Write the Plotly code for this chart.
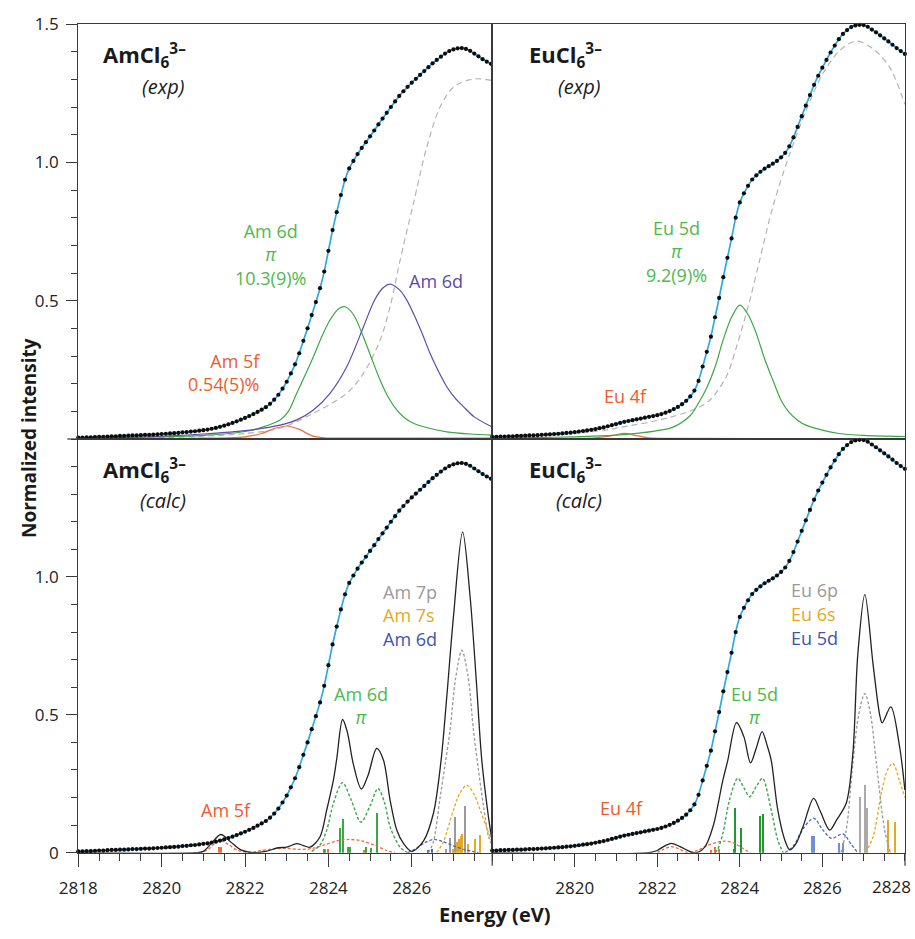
import plotly.graph_objects as go

# ---------------- DATA ----------------
# experimental spectra (sampled every 0.1 eV)
am_exp_E = [round(2818.0 + 0.1 * i, 1) for i in range(100)]
am_exp = [.005, .005, .006, .006, .007, .008, .008, .009, .010, .010,
          .011, .011, .012, .013, .013, .014, .015, .015, .016, .017,
          .018, .019, .020, .021, .022, .024, .025, .027, .028, .030,
          .032, .034, .037, .040, .044, .048, .053, .058, .064, .070,
          .076, .083, .090, .098, .106, .115, .127, .142, .160, .182,
          .207, .237, .270, .310, .355, .400, .448, .495, .545, .605,
          .680, .755, .820, .882, .937, .978, 1.005, 1.030, 1.052, 1.073,
          1.094, 1.115, 1.137, 1.158, 1.179, 1.200, 1.220, 1.240, 1.257, 1.273,
          1.288, 1.302, 1.316, 1.330, 1.344, 1.358, 1.370, 1.382, 1.393, 1.402,
          1.408, 1.412, 1.413, 1.410, 1.403, 1.393, 1.383, 1.373, 1.364, 1.356]

eu_exp_E = [round(2818.0 + 0.1 * i, 1) for i in range(101)]
eu_exp = [.008, .008, .009, .009, .010, .010, .011, .011, .012, .013,
          .013, .014, .015, .016, .017, .018, .019, .020, .022, .023,
          .025, .027, .029, .031, .033, .036, .039, .042, .046, .050,
          .054, .058, .062, .065, .068, .071, .074, .077, .080, .083,
          .086, .090, .095, .101, .108, .116, .126, .138, .154, .175,
          .210, .262, .315, .370, .440, .510, .585, .655, .725, .800,
          .855, .888, .915, .938, .953, .966, .977, .986, .995, 1.005,
          1.018, 1.034, 1.058, 1.090, 1.128, 1.167, 1.205, 1.243, 1.280, 1.313,
          1.342, 1.370, 1.397, 1.422, 1.445, 1.464, 1.478, 1.489, 1.495, 1.497,
          1.496, 1.490, 1.480, 1.470, 1.459, 1.448, 1.437, 1.425, 1.413, 1.402,
          1.392]

# fitted components, AmCl6 (exp)
am_pi_E = [2818.0, 2819.0, 2820.0, 2821.0, 2821.5, 2822.0, 2822.4, 2822.84, 2823.04, 2823.24,
           2823.44, 2823.64, 2823.84, 2824.04, 2824.24, 2824.4, 2824.6, 2824.84, 2825.04, 2825.24,
           2825.44, 2825.64, 2825.84, 2826.04, 2826.44, 2826.84, 2827.4, 2827.92]
am_pi = [.003, .005, .008, .013, .018, .027, .042, .069, .10, .165,
         .23, .297, .37, .43, .47, .478, .45, .369, .29, .213,
         .15, .105, .075, .057, .038, .026, .018, .014]
am_d_E = [2818.0, 2819.0, 2820.0, 2821.0, 2822.0, 2822.84, 2823.24, 2823.64, 2824.04, 2824.44,
          2824.84, 2825.1, 2825.3, 2825.48, 2825.7, 2825.85, 2826.04, 2826.24, 2826.44, 2826.64,
          2826.84, 2827.04, 2827.24, 2827.5, 2827.92]
am_d = [.003, .006, .010, .018, .030, .050, .069, .105, .165, .261,
        .405, .50, .545, .56, .54, .51, .454, .385, .309, .245,
        .189, .148, .117, .080, .044]
am_f_E = [2818.0, 2821.0, 2822.0, 2822.4, 2822.7, 2823.0, 2823.3, 2823.6, 2823.9, 2824.5, 2827.92]
am_f = [.002, .003, .008, .020, .038, .047, .035, .012, .004, .003, .003]
am_step_E = [2818.0, 2820.0, 2821.0, 2822.0, 2822.84, 2823.64, 2824.44, 2824.84, 2825.24, 2825.48,
             2825.72, 2826.04, 2826.36, 2826.68, 2827.0, 2827.4, 2827.64, 2827.92]
am_step = [.002, .005, .01, .02, .039, .093, .165, .237, .357, .478,
           .646, .851, 1.055, 1.20, 1.272, 1.299, 1.302, 1.296]

# fitted components, EuCl6 (exp)
eu_pi_E = [2818.0, 2819.0, 2820.0, 2821.0, 2821.5, 2822.0, 2822.4, 2822.8, 2823.0, 2823.2,
           2823.4, 2823.6, 2823.8, 2824.0, 2824.2, 2824.4, 2824.6, 2824.8, 2825.0, 2825.2,
           2825.4, 2825.6, 2826.0, 2826.4, 2827.0, 2828.0]
eu_pi = [.003, .005, .008, .014, .020, .030, .044, .085, .13, .185,
         .26, .36, .44, .484, .45, .381, .29, .213, .14, .095,
         .068, .05, .032, .02, .013, .009]
eu_f_E = [2818.0, 2820.5, 2820.9, 2821.2, 2821.5, 2821.8, 2822.5, 2828.0]
eu_f = [.002, .004, .012, .020, .012, .004, .002, .001]
eu_step_E = [2818.0, 2819.0, 2820.0, 2820.76, 2821.1, 2822.06, 2822.86, 2823.27, 2823.67, 2823.92,
             2824.24, 2824.48, 2824.8, 2825.21, 2825.61, 2826.01, 2826.42, 2826.82, 2827.23, 2827.63,
             2828.0]
eu_step = [.008, .012, .020, .033, .042, .069, .105, .14, .225, .333,
           .50, .646, .839, 1.031, 1.188, 1.32, 1.404, 1.438, 1.41, 1.344,
           1.21]

# calculated spectra, AmCl6
am_calc_E = [2818.0, 2820.8, 2821.0, 2821.2, 2821.42, 2821.65, 2821.9, 2822.2, 2822.5, 2822.8,
             2823.0, 2823.24, 2823.4, 2823.56, 2823.8, 2823.96, 2824.12, 2824.2, 2824.34, 2824.45,
             2824.6, 2824.79, 2824.95, 2825.16, 2825.32, 2825.48, 2825.64, 2825.8, 2826.0, 2826.28,
             2826.52, 2826.7, 2826.84, 2827.0, 2827.22, 2827.4, 2827.55, 2827.68, 2827.84, 2827.92]
am_calc = [0, 0, .005, .035, .066, .04, .01, 0, .005, .018,
           .02, .033, .026, .02, .058, .155, .263, .34, .483, .44,
           .32, .231, .28, .378, .336, .191, .082, .034, .005, .042,
           .143, .33, .565, .855, 1.163, .928, .62, .336, .13, .05]
am_pi_calc_E = [2823.6, 2823.8, 2823.96, 2824.12, 2824.34, 2824.55, 2824.78, 2825.0, 2825.19, 2825.35,
                2825.48, 2825.72, 2825.9]
am_pi_calc = [.005, .028, .082, .179, .254, .19, .111, .17, .233, .18,
              .094, .02, 0]
am_f_calc_E = [2820.9, 2821.1, 2821.25, 2821.42, 2821.6, 2821.8, 2822.1, 2822.4, 2822.7, 2823.0,
               2823.3, 2823.6, 2823.9, 2824.2, 2824.5, 2824.8, 2825.1, 2825.4, 2825.6]
am_f_calc = [0, .01, .03, .042, .03, .01, 0, .008, .014, .016,
             .012, .015, .028, .043, .048, .043, .028, .008, 0]
am_7p_E = [2826.4, 2826.52, 2826.68, 2826.8, 2826.92, 2827.05, 2827.2, 2827.35, 2827.48, 2827.6,
           2827.72, 2827.84, 2827.92]
am_7p = [0, .04, .2, .32, .445, .63, .734, .64, .445, .3, .17, .06, .03]
am_7s_E = [2826.6, 2826.76, 2827.0, 2827.15, 2827.32, 2827.5, 2827.64, 2827.8, 2827.92]
am_7s = [0, .04, .155, .215, .245, .21, .155, .09, .04]
am_6d_E = [2825.9, 2826.1, 2826.3, 2826.52, 2826.75, 2827.0, 2827.3, 2827.6]
am_6d = [0, .015, .035, .048, .04, .025, .01, 0]

# calculated transitions (sticks), AmCl6
am_st_f_E = [2821.38, 2821.44, 2823.92, 2824.0, 2824.86]
am_st_f = [.022, .022, .015, .012, .01]
am_st_pi_E = [2823.9, 2824.28, 2824.36, 2824.48, 2824.54, 2824.92, 2825.03, 2825.18]
am_st_pi = [.015, .088, .121, .02, .022, .02, .018, .145]
am_st_d_E = [2826.4, 2826.5]
am_st_d = [.01, .012]
am_st_p_E = [2826.84, 2826.94, 2827.05, 2827.28]
am_st_p = [.012, .052, .128, .169]
am_st_s_E = [2827.0, 2827.1, 2827.15, 2827.19, 2827.22, 2827.35, 2827.52, 2827.64]
am_st_s = [.015, .04, .05, .06, .068, .03, .05, .064]

# calculated spectra, EuCl6
eu_calc_E = [2818.0, 2821.8, 2822.0, 2822.15, 2822.34, 2822.55, 2822.8, 2822.95, 2823.15, 2823.35,
             2823.59, 2823.71, 2823.92, 2824.1, 2824.26, 2824.4, 2824.54, 2824.66, 2824.76, 2824.92,
             2825.09, 2825.21, 2825.35, 2825.53, 2825.79, 2825.95, 2826.18, 2826.35, 2826.58, 2826.74,
             2826.86, 2827.03, 2827.23, 2827.39, 2827.45, 2827.66, 2827.87, 2828.0]
eu_calc = [0, 0, .008, .022, .034, .022, .004, 0, .02, .094,
           .263, .336, .472, .42, .326, .38, .439, .39, .336, .155,
           .046, .01, .03, .094, .197, .15, .082, .12, .18, .36,
           .72, .937, .682, .5, .471, .529, .386, .227]
eu_pi_calc_E = [2823.4, 2823.47, 2823.59, 2823.75, 2823.95, 2824.1, 2824.24, 2824.4, 2824.55, 2824.76,
                2824.92, 2825.05]
eu_pi_calc = [0, .014, .07, .191, .27, .235, .203, .24, .27, .155, .046, 0]
eu_f_calc_E = [2822.0, 2822.15, 2822.34, 2822.55, 2822.75, 2823.0, 2823.2, 2823.45, 2823.63, 2823.85,
               2824.05, 2824.25]
eu_f_calc = [0, .012, .022, .012, 0, .01, .025, .038, .042, .035, .018, 0]
eu_5d_E = [2825.1, 2825.3, 2825.55, 2825.79, 2826.0, 2826.22, 2826.5, 2826.7, 2826.86]
eu_5d = [0, .025, .09, .125, .085, .052, .068, .03, 0]
eu_6p_E = [2826.45, 2826.58, 2826.74, 2826.88, 2827.03, 2827.17, 2827.31, 2827.51, 2827.65]
eu_6p = [0, .082, .324, .5, .577, .5, .324, .082, 0]
eu_6s_E = [2827.05, 2827.23, 2827.43, 2827.58, 2827.71, 2827.87, 2828.0]
eu_6s = [0, .058, .215, .3, .324, .26, .2]

# calculated transitions (sticks), EuCl6
eu_st_f_E = [2823.3, 2823.42, 2823.5]
eu_st_f = [.01, .02, .015]
eu_st_pi_E = [2823.86, 2823.9, 2824.04, 2824.5, 2824.58]
eu_st_pi = [.015, .161, .091, .133, .139]
eu_st_d_E = [2825.76, 2825.82, 2826.42, 2826.5]
eu_st_d = [.06, .06, .034, .034]
eu_st_p_E = [2826.92, 2827.05, 2827.09]
eu_st_p = [.203, .245, .161]
eu_st_s_E = [2827.59, 2827.78]
eu_st_s = [.118, .112]

x_ticks_left = [2818, 2820, 2822, 2824, 2826]
x_ticks_right = [2820, 2822, 2824, 2826]
x_last_label = "2828"
y_ticks_top = [0.5, 1.0, 1.5]
y_ticks_bottom = [0, 0.5, 1.0]

# ---------------- STYLE ----------------
W, H = 915, 939
FONT = "Open Sans, Lato, sans-serif"
TICKFONT = "Liberation Sans Narrow, Open Sans, sans-serif"
AXC = "#3a3a3a"
C_EXP = "#2ea9e0"
C_GREEN = "#3aa845"
C_GREEN_T = "#4cba4c"
C_PURPLE = "#5e4aa8"
C_ORANGE = "#f26b3a"
C_ORANGE_T = "#f15a2b"
C_GRAYD = "#b4b4b4"
C_GRAY = "#9a9a9a"
C_GOLD = "#e5a823"
C_BLUE = "#4a66c4"
C_BLUE_T = "#3d55b0"


def px(x):
    return x / W


def py(y):
    return 1 - y / H


fig = go.Figure()


def line(x, y, xa, ya, color, width=1.3, dash=None):
    fig.add_trace(go.Scatter(x=x, y=y, xaxis=xa, yaxis=ya, mode="lines",
                             line=dict(color=color, width=width, dash=dash,
                                       shape="spline", smoothing=0.9),
                             hoverinfo="skip", showlegend=False))


def dots(x, y, xa, ya):
    fig.add_trace(go.Scatter(x=x, y=y, xaxis=xa, yaxis=ya, mode="lines",
                             line=dict(color=C_EXP, width=1.7, shape="spline", smoothing=0.6),
                             hoverinfo="skip", showlegend=False))
    fig.add_trace(go.Scatter(x=x, y=y, xaxis=xa, yaxis=ya, mode="markers",
                             marker=dict(color="#0d0d0d", size=4.2),
                             hoverinfo="skip", showlegend=False, cliponaxis=False))


def sticks(x, y, xa, ya, color):
    fig.add_trace(go.Bar(x=x, y=y, xaxis=xa, yaxis=ya, width=0.035,
                         marker=dict(color=color, line=dict(width=0)),
                         hoverinfo="skip", showlegend=False))


# top-left: AmCl6 exp
line(am_step_E, am_step, "x", "y", C_GRAYD, 1.2, "6px,4px")
line(am_f_E, am_f, "x", "y", C_ORANGE, 1.2)
line(am_pi_E, am_pi, "x", "y", C_GREEN, 1.2)
line(am_d_E, am_d, "x", "y", C_PURPLE, 1.2)
dots(am_exp_E, am_exp, "x", "y")

# top-right: EuCl6 exp
line(eu_step_E, eu_step, "x2", "y2", C_GRAYD, 1.2, "6px,4px")
line(eu_f_E, eu_f, "x2", "y2", C_ORANGE, 1.2)
line(eu_pi_E, eu_pi, "x2", "y2", C_GREEN, 1.2)
dots(eu_exp_E, eu_exp, "x2", "y2")

# bottom-left: AmCl6 calc
sticks(am_st_f_E, am_st_f, "x3", "y3", C_ORANGE)
sticks(am_st_pi_E, am_st_pi, "x3", "y3", C_GREEN)
sticks(am_st_d_E, am_st_d, "x3", "y3", C_BLUE)
sticks(am_st_p_E, am_st_p, "x3", "y3", C_GRAY)
sticks(am_st_s_E, am_st_s, "x3", "y3", C_GOLD)
line(am_f_calc_E, am_f_calc, "x3", "y3", C_ORANGE, 1.3, "3px,2px")
line(am_pi_calc_E, am_pi_calc, "x3", "y3", C_GREEN, 1.4, "3px,2px")
line(am_6d_E, am_6d, "x3", "y3", C_BLUE, 1.3, "3px,2px")
line(am_7s_E, am_7s, "x3", "y3", C_GOLD, 1.3, "3px,2px")
line(am_7p_E, am_7p, "x3", "y3", C_GRAY, 1.3, "3px,2px")
line(am_calc_E, am_calc, "x3", "y3", "#222222", 1.3)
dots(am_exp_E, am_exp, "x3", "y3")

# bottom-right: EuCl6 calc
sticks(eu_st_f_E, eu_st_f, "x4", "y4", C_ORANGE)
sticks(eu_st_pi_E, eu_st_pi, "x4", "y4", "#1f9a2e")
sticks(eu_st_d_E, eu_st_d, "x4", "y4", "#6f8fd8")
sticks(eu_st_p_E, eu_st_p, "x4", "y4", "#aaaaaa")
sticks(eu_st_s_E, eu_st_s, "x4", "y4", C_GOLD)
line(eu_f_calc_E, eu_f_calc, "x4", "y4", C_ORANGE, 1.3, "3px,2px")
line(eu_pi_calc_E, eu_pi_calc, "x4", "y4", C_GREEN, 1.4, "3px,2px")
line(eu_5d_E, eu_5d, "x4", "y4", C_BLUE, 1.3, "3px,2px")
line(eu_6s_E, eu_6s, "x4", "y4", C_GOLD, 1.3, "3px,2px")
line(eu_6p_E, eu_6p, "x4", "y4", C_GRAY, 1.3, "3px,2px")
line(eu_calc_E, eu_calc, "x4", "y4", "#222222", 1.3)
dots(eu_exp_E, eu_exp, "x4", "y4")

# ---------------- AXES ----------------
XL = [px(78.3), px(492.2)]
XR = [px(492.2), px(905)]
YT = [py(439), py(24)]
YB = [py(852.7), py(439)]

base = dict(showline=True, linecolor=AXC, linewidth=1.3, mirror=True,
            showgrid=False, zeroline=False, fixedrange=True, automargin=False,
            tickfont=dict(family=TICKFONT, size=17, color="#222"))
hidden = dict(tickmode="array", tickvals=[], ticks="", showticklabels=False)

ymin = dict(tickmode="linear", tick0=0, dtick=0.1, ticks="outside", ticklen=6,
            tickcolor=AXC, tickwidth=1.1, showgrid=False)
xmin = dict(tickmode="linear", tick0=2818, dtick=0.5, ticks="outside", ticklen=7,
            tickcolor=AXC, tickwidth=1.1, showgrid=False)

fig.update_layout(
    width=W, height=H, margin=dict(l=0, r=0, t=0, b=0, autoexpand=False),
    paper_bgcolor="white", plot_bgcolor="white",
    barmode="overlay", bargap=0,
    xaxis=dict(base, **hidden, domain=XL, range=[2818, 2827.93], anchor="y"),
    yaxis=dict(base, domain=YT, range=[0, 1.5], anchor="x",
               tickmode="array", tickvals=y_ticks_top,
               ticks="outside", ticklen=11, tickcolor=AXC, tickwidth=1.2,
               ticklabelstandoff=4, tickformat=".1f", minor=ymin),
    xaxis2=dict(base, **hidden, domain=XR, range=[2818, 2828.003], anchor="y2"),
    yaxis2=dict(base, **hidden, domain=YT, range=[0, 1.5], anchor="x2"),
    xaxis3=dict(base, domain=XL, range=[2818, 2827.93], anchor="y3",
                tickmode="array", tickvals=x_ticks_left,
                ticks="outside", ticklen=13, tickcolor=AXC, tickwidth=1.2,
                ticklabelstandoff=7, tickformat="d", minor=xmin),
    yaxis3=dict(base, domain=YB, range=[0, 1.5], anchor="x3",
                tickmode="array", tickvals=y_ticks_bottom,
                ticktext=["0", "0.5", "1.0"],
                ticks="outside", ticklen=11, tickcolor=AXC, tickwidth=1.2,
                ticklabelstandoff=4, minor=ymin),
    xaxis4=dict(base, domain=XR, range=[2818, 2828.003], anchor="y4",
                tickmode="array", tickvals=x_ticks_right,
                ticks="outside", ticklen=13, tickcolor=AXC, tickwidth=1.2,
                ticklabelstandoff=7, tickformat="d", minor=xmin),
    yaxis4=dict(base, **hidden, domain=YB, range=[0, 1.5], anchor="x4"),
)

# long boundary ticks (shared panel edges and right end)
fig.add_shape(type="line", xref="paper", yref="paper",
              x0=px(67.3), x1=px(78.3), y0=py(439), y1=py(439),
              line=dict(color=AXC, width=1.2))
fig.add_shape(type="line", xref="paper", yref="paper",
              x0=px(492.2), x1=px(492.2), y0=py(852.7), y1=py(865.7),
              line=dict(color=AXC, width=1.2))
fig.add_shape(type="line", xref="x4 domain", yref="paper",
              x0=1, x1=1, y0=py(852.7), y1=py(865.7),
              line=dict(color=AXC, width=1.2))

# ---------------- TEXT ----------------
ann = []


def text(s, x, y, color, size=18, xanchor="center", yanchor="middle",
         align="center", family=FONT, angle=0):
    ann.append(dict(text=s, x=px(x), y=py(y), xref="paper", yref="paper",
                    xanchor=xanchor, yanchor=yanchor, align=align,
                    showarrow=False, textangle=angle,
                    font=dict(family=family, size=size, color=color)))


# last x tick label, pulled inside the figure edge as in the original
text(x_last_label, 913, 886, "#222", 17, xanchor="right", family=TICKFONT)

TITLE = "<b>{}Cl<sub>6</sub><sup>3–</sup></b>"
text(TITLE.format("Am"), 101, 55, "#1a1a1a", 22, xanchor="left")
text("<i>(exp)</i>", 187, 86, "#1a1a1a", 20, xanchor="right")
text(TITLE.format("Eu"), 527, 55, "#1a1a1a", 22, xanchor="left")
text("<i>(exp)</i>", 603, 86, "#1a1a1a", 20, xanchor="right")
text(TITLE.format("Am"), 101, 470, "#1a1a1a", 22, xanchor="left")
text("<i>(calc)</i>", 188, 500, "#1a1a1a", 20, xanchor="right")
text(TITLE.format("Eu"), 527, 470, "#1a1a1a", 22, xanchor="left")
text("<i>(calc)</i>", 604, 500, "#1a1a1a", 20, xanchor="right")

text("Am 6d<br><i>π</i><br>10.3(9)%", 270, 254, C_GREEN_T, 18)
text("Am 6d", 436, 281, C_PURPLE, 18)
text("Am 5f<br>0.54(5)%", 262, 372, C_ORANGE_T, 18, xanchor="right", align="right")
text("Eu 5d<br><i>π</i><br>9.2(9)%", 676, 252, C_GREEN_T, 18)
text("Eu 4f", 625, 396, C_ORANGE_T, 18)

text("Am 7p", 381, 592, C_GRAY, 18, xanchor="left")
text("Am 7s", 381, 615, C_GOLD, 18, xanchor="left")
text("Am 6d", 381, 639, C_BLUE_T, 18, xanchor="left")
text("Am 6d<br><i>π</i>", 361, 705, C_GREEN_T, 18)
text("Am 5f", 226, 810, C_ORANGE_T, 18)

text("Eu 6p", 789, 590, C_GRAY, 18, xanchor="left")
text("Eu 6s", 789, 614, C_GOLD, 18, xanchor="left")
text("Eu 5d", 789, 638, C_BLUE_T, 18, xanchor="left")
text("Eu 5d<br><i>π</i>", 754, 705, C_GREEN_T, 18)
text("Eu 4f", 621, 808, C_ORANGE_T, 18)

text("<b>Normalized intensity</b>", 29, 438, "#1a1a1a", 19, angle=-90)
text("<b>Energy (eV)</b>", 494, 914, "#1a1a1a", 20)

fig.update_layout(annotations=ann)

fig.write_html("out.html")
